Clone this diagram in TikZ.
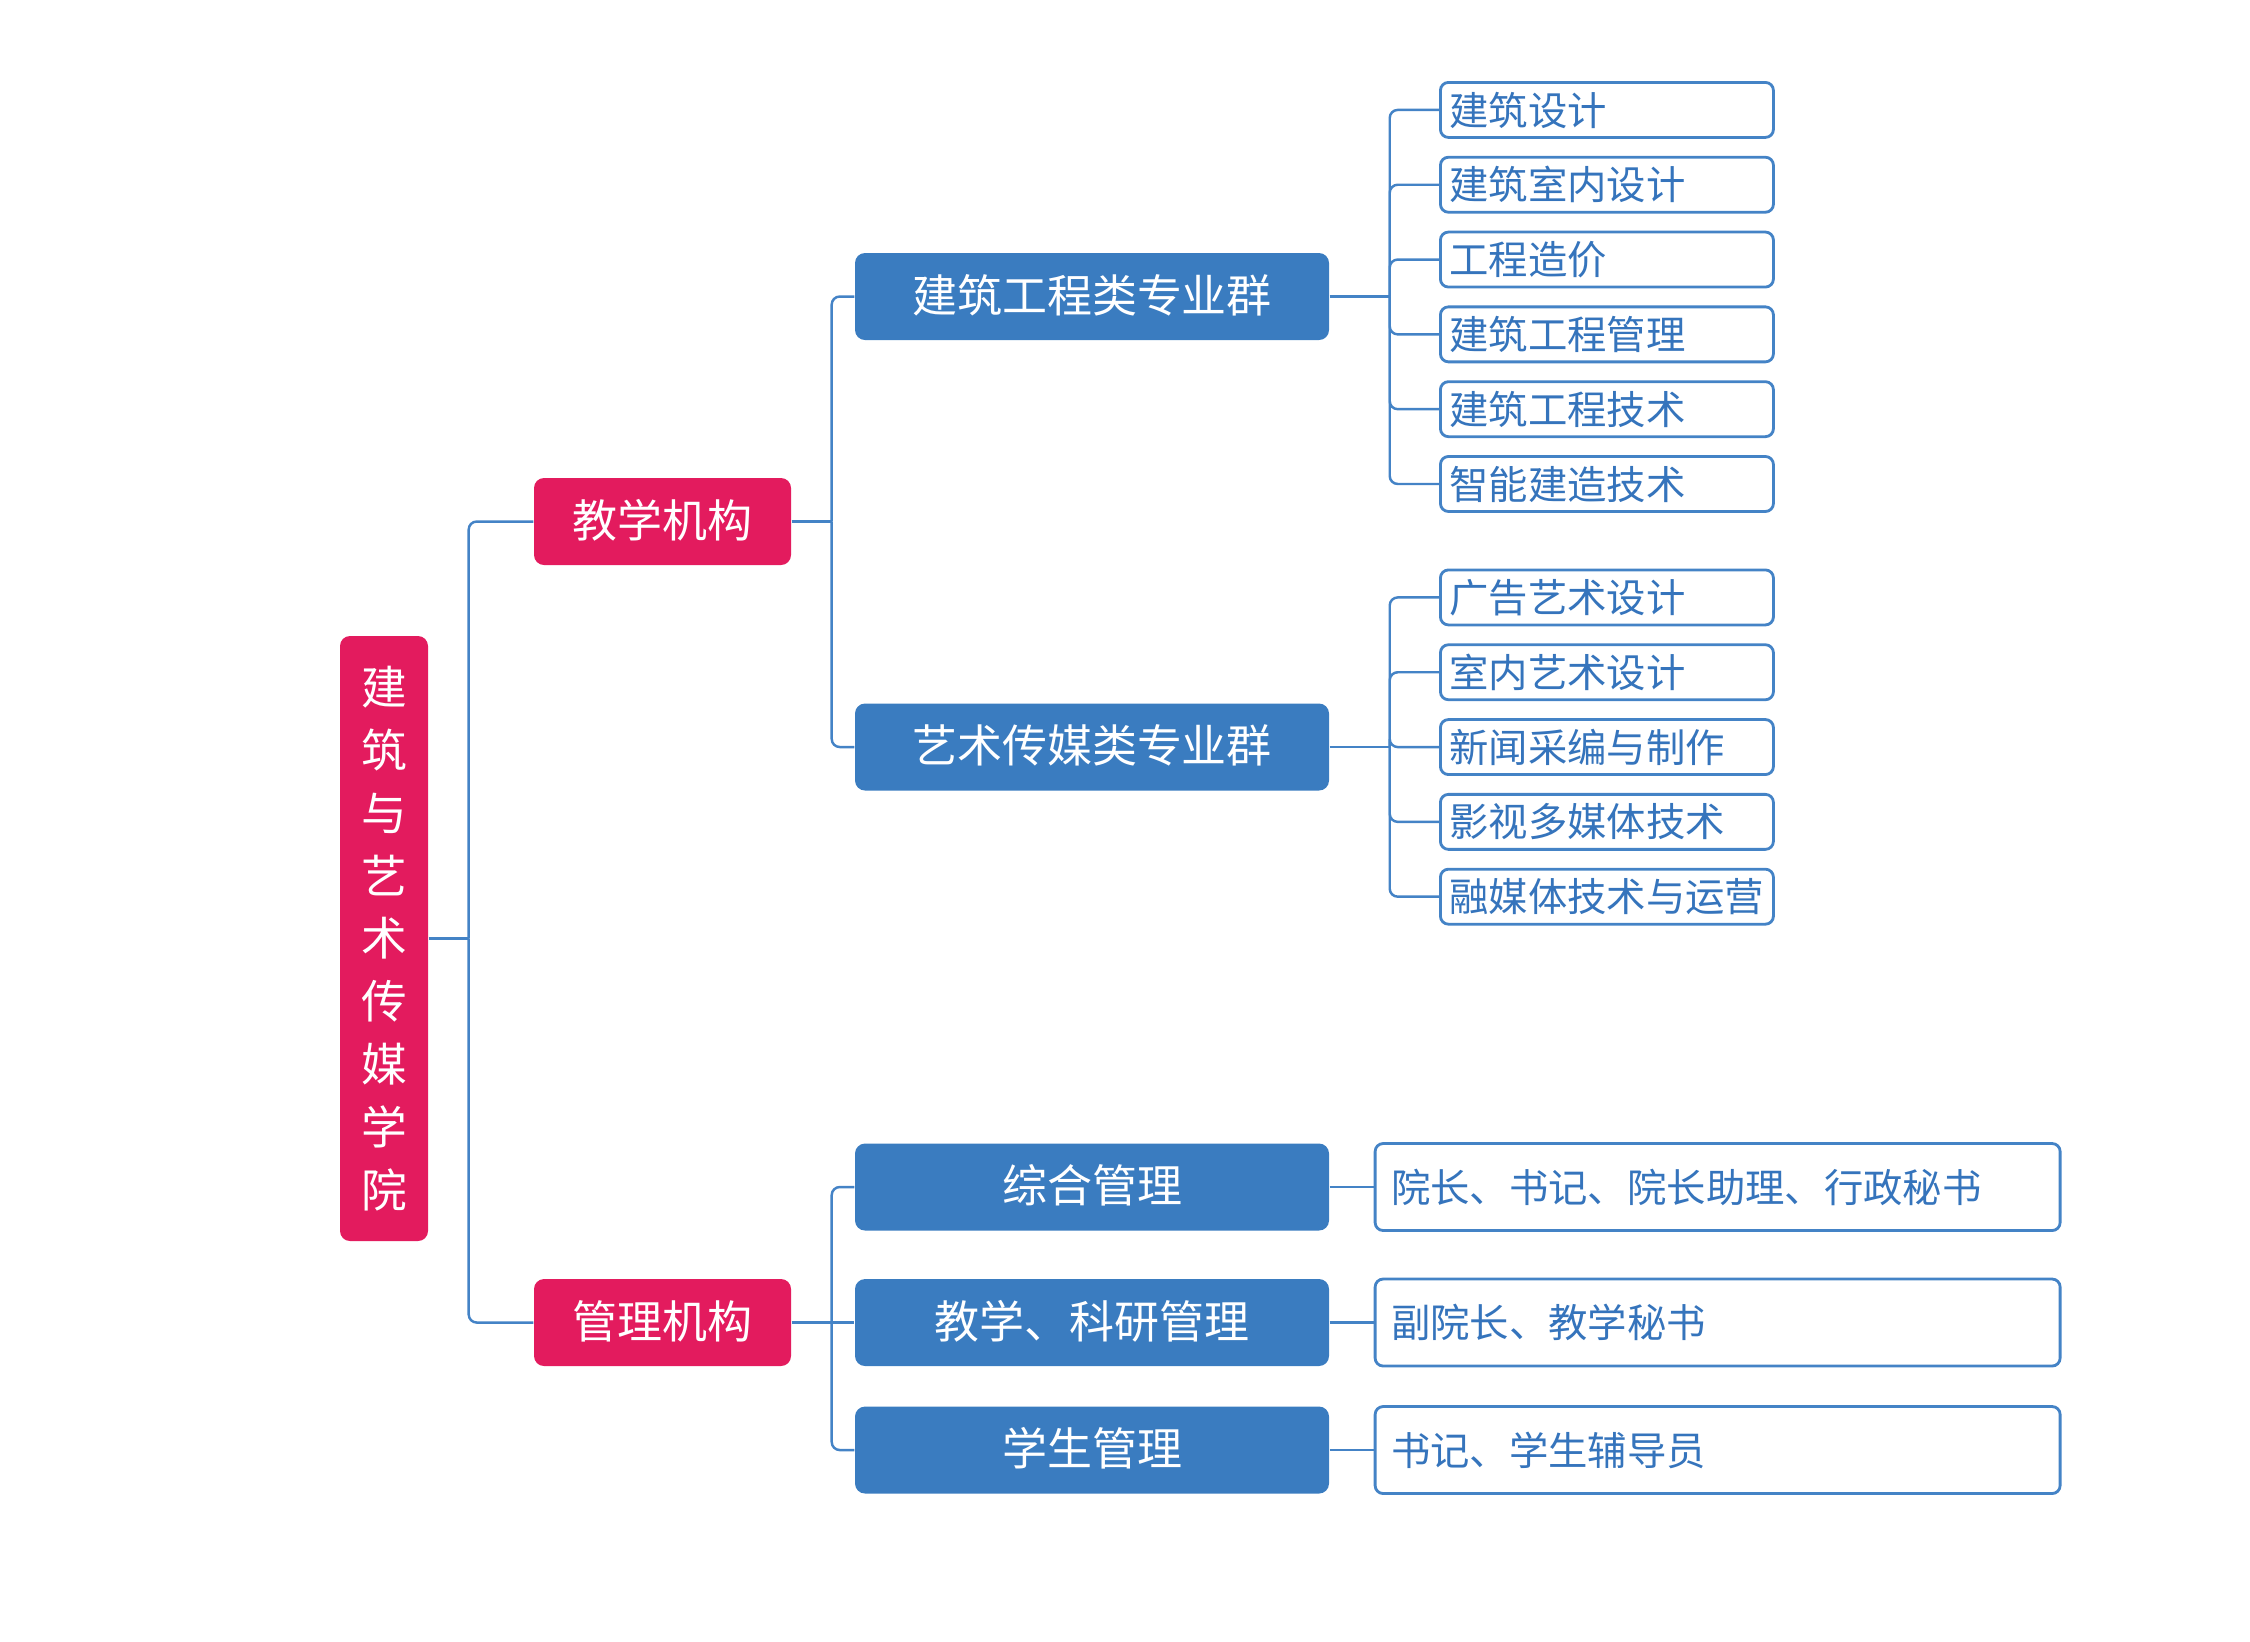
\documentclass[tikz,border=0pt]{standalone}
\usepackage{fontspec}
\setmainfont{Noto Sans CJK SC}
\usepackage{tikz}
\usetikzlibrary{positioning}
\definecolor{rosered}{HTML}{E31B5E}
\definecolor{groupblue}{HTML}{3A7CC0}
\definecolor{linkblue}{HTML}{4483C6}
\definecolor{leaftext}{HTML}{3574BC}
\tikzset{
    rootbox/.style={rectangle, rounded corners=0.1cm, fill=rosered, text=white, align=center, minimum width=0.88cm, minimum height=6.05cm, inner sep=0pt, font=\fontsize{13pt}{17.9pt}\selectfont},
    orgbox/.style={rectangle, rounded corners=0.1cm, fill=rosered, text=white, minimum width=2.57cm, minimum height=0.87cm, inner sep=0pt, text height=0.95em, text depth=0.06em, font=\fontsize{12.8pt}{14pt}\selectfont},
    groupbox/.style={rectangle, rounded corners=0.1cm, fill=groupblue, text=white, minimum width=4.74cm, minimum height=0.87cm, inner sep=0pt, text height=0.95em, text depth=0.06em, font=\fontsize{12.8pt}{14pt}\selectfont},
    leaf/.style={rectangle, draw=linkblue, line width=0.8pt, rounded corners=0.08cm, fill=white, text=leaftext, text width=3.15cm, align=left, inner xsep=0.09cm, inner ysep=0pt, text height=0.93em, text depth=0.07em, minimum height=0.55cm, font=\fontsize{11.2pt}{13pt}\selectfont},
    staffbox/.style={leaf, text width=6.53cm, inner xsep=0.16cm, minimum height=0.87cm},
    link/.style={draw=linkblue, line width=0.7pt, rounded corners=0.08cm}
}
\begin{document}
\begin{tikzpicture}[node distance=0.17cm]
\useasboundingbox (0,0) rectangle (22.5,-16.41);
\node[rootbox] (college) at (3.84,-9.385) {建\\筑\\与\\艺\\术\\传\\媒\\学\\院};
\node[orgbox] (teach) at (6.625,-5.215) {教学机构};
\node[orgbox] (admin) at (6.625,-13.225) {管理机构};

\node[groupbox] (archgroup) at (10.92,-2.965) {建筑工程类专业群};
\node[groupbox] (artgroup) at (10.92,-7.47) {艺术传媒类专业群};
\node[groupbox] (general) at (10.92,-11.87) {综合管理};
\node[groupbox] (research) at (10.92,-13.225) {教学、科研管理};
\node[groupbox] (student) at (10.92,-14.5) {学生管理};

\node[leaf, anchor=north west] (archdesign) at (14.39,-0.81) {建筑设计};
\node[leaf, below=of archdesign] (archinterior) {建筑室内设计};
\node[leaf, below=of archinterior] (cost) {工程造价};
\node[leaf, below=of cost] (archmgmt) {建筑工程管理};
\node[leaf, below=of archmgmt] (archtech) {建筑工程技术};
\node[leaf, below=of archtech] (smart) {智能建造技术};

\node[leaf, anchor=north west] (advert) at (14.39,-5.685) {广告艺术设计};
\node[leaf, below=of advert] (artinterior) {室内艺术设计};
\node[leaf, below=of artinterior] (news) {新闻采编与制作};
\node[leaf, below=of news] (film) {影视多媒体技术};
\node[leaf, below=of film] (media) {融媒体技术与运营};

\node[staffbox, right=0.44cm of general] (generalstaff) {院长、书记、院长助理、行政秘书};
\node[staffbox, right=0.44cm of research] (researchstaff) {副院长、教学秘书};
\node[staffbox, right=0.44cm of student] (studentstaff) {书记、学生辅导员};

\draw[link] (college.east) -- ++(0.4,0) coordinate (rootbus);
\draw[link] (rootbus) |- (teach.west);
\draw[link] (rootbus) |- (admin.west);

\draw[link] (teach.east) -- ++(0.4,0) coordinate (teachbus);
\draw[link] (teachbus) |- (archgroup.west);
\draw[link] (teachbus) |- (artgroup.west);

\draw[link] (admin.east) -- ++(0.4,0) coordinate (adminbus);
\draw[link] (adminbus) |- (general.west);
\draw[link] (adminbus) -- (research.west);
\draw[link] (adminbus) |- (student.west);

\draw[link] (archgroup.east) -- ++(0.6,0) coordinate (archbus);
\draw[link] (archbus) |- (archdesign.west);
\draw[link] (archbus) |- (archinterior.west);
\draw[link] (archbus) |- (cost.west);
\draw[link] (archbus) |- (archmgmt.west);
\draw[link] (archbus) |- (archtech.west);
\draw[link] (archbus) |- (smart.west);

\draw[link] (artgroup.east) -- ++(0.6,0) coordinate (artbus);
\draw[link] (artbus) |- (advert.west);
\draw[link] (artbus) |- (artinterior.west);
\draw[link] (artbus) |- (news.west);
\draw[link] (artbus) |- (film.west);
\draw[link] (artbus) |- (media.west);

\draw[link] (general.east) -- (generalstaff.west);
\draw[link] (research.east) -- (researchstaff.west);
\draw[link] (student.east) -- (studentstaff.west);
\end{tikzpicture}
\end{document}
